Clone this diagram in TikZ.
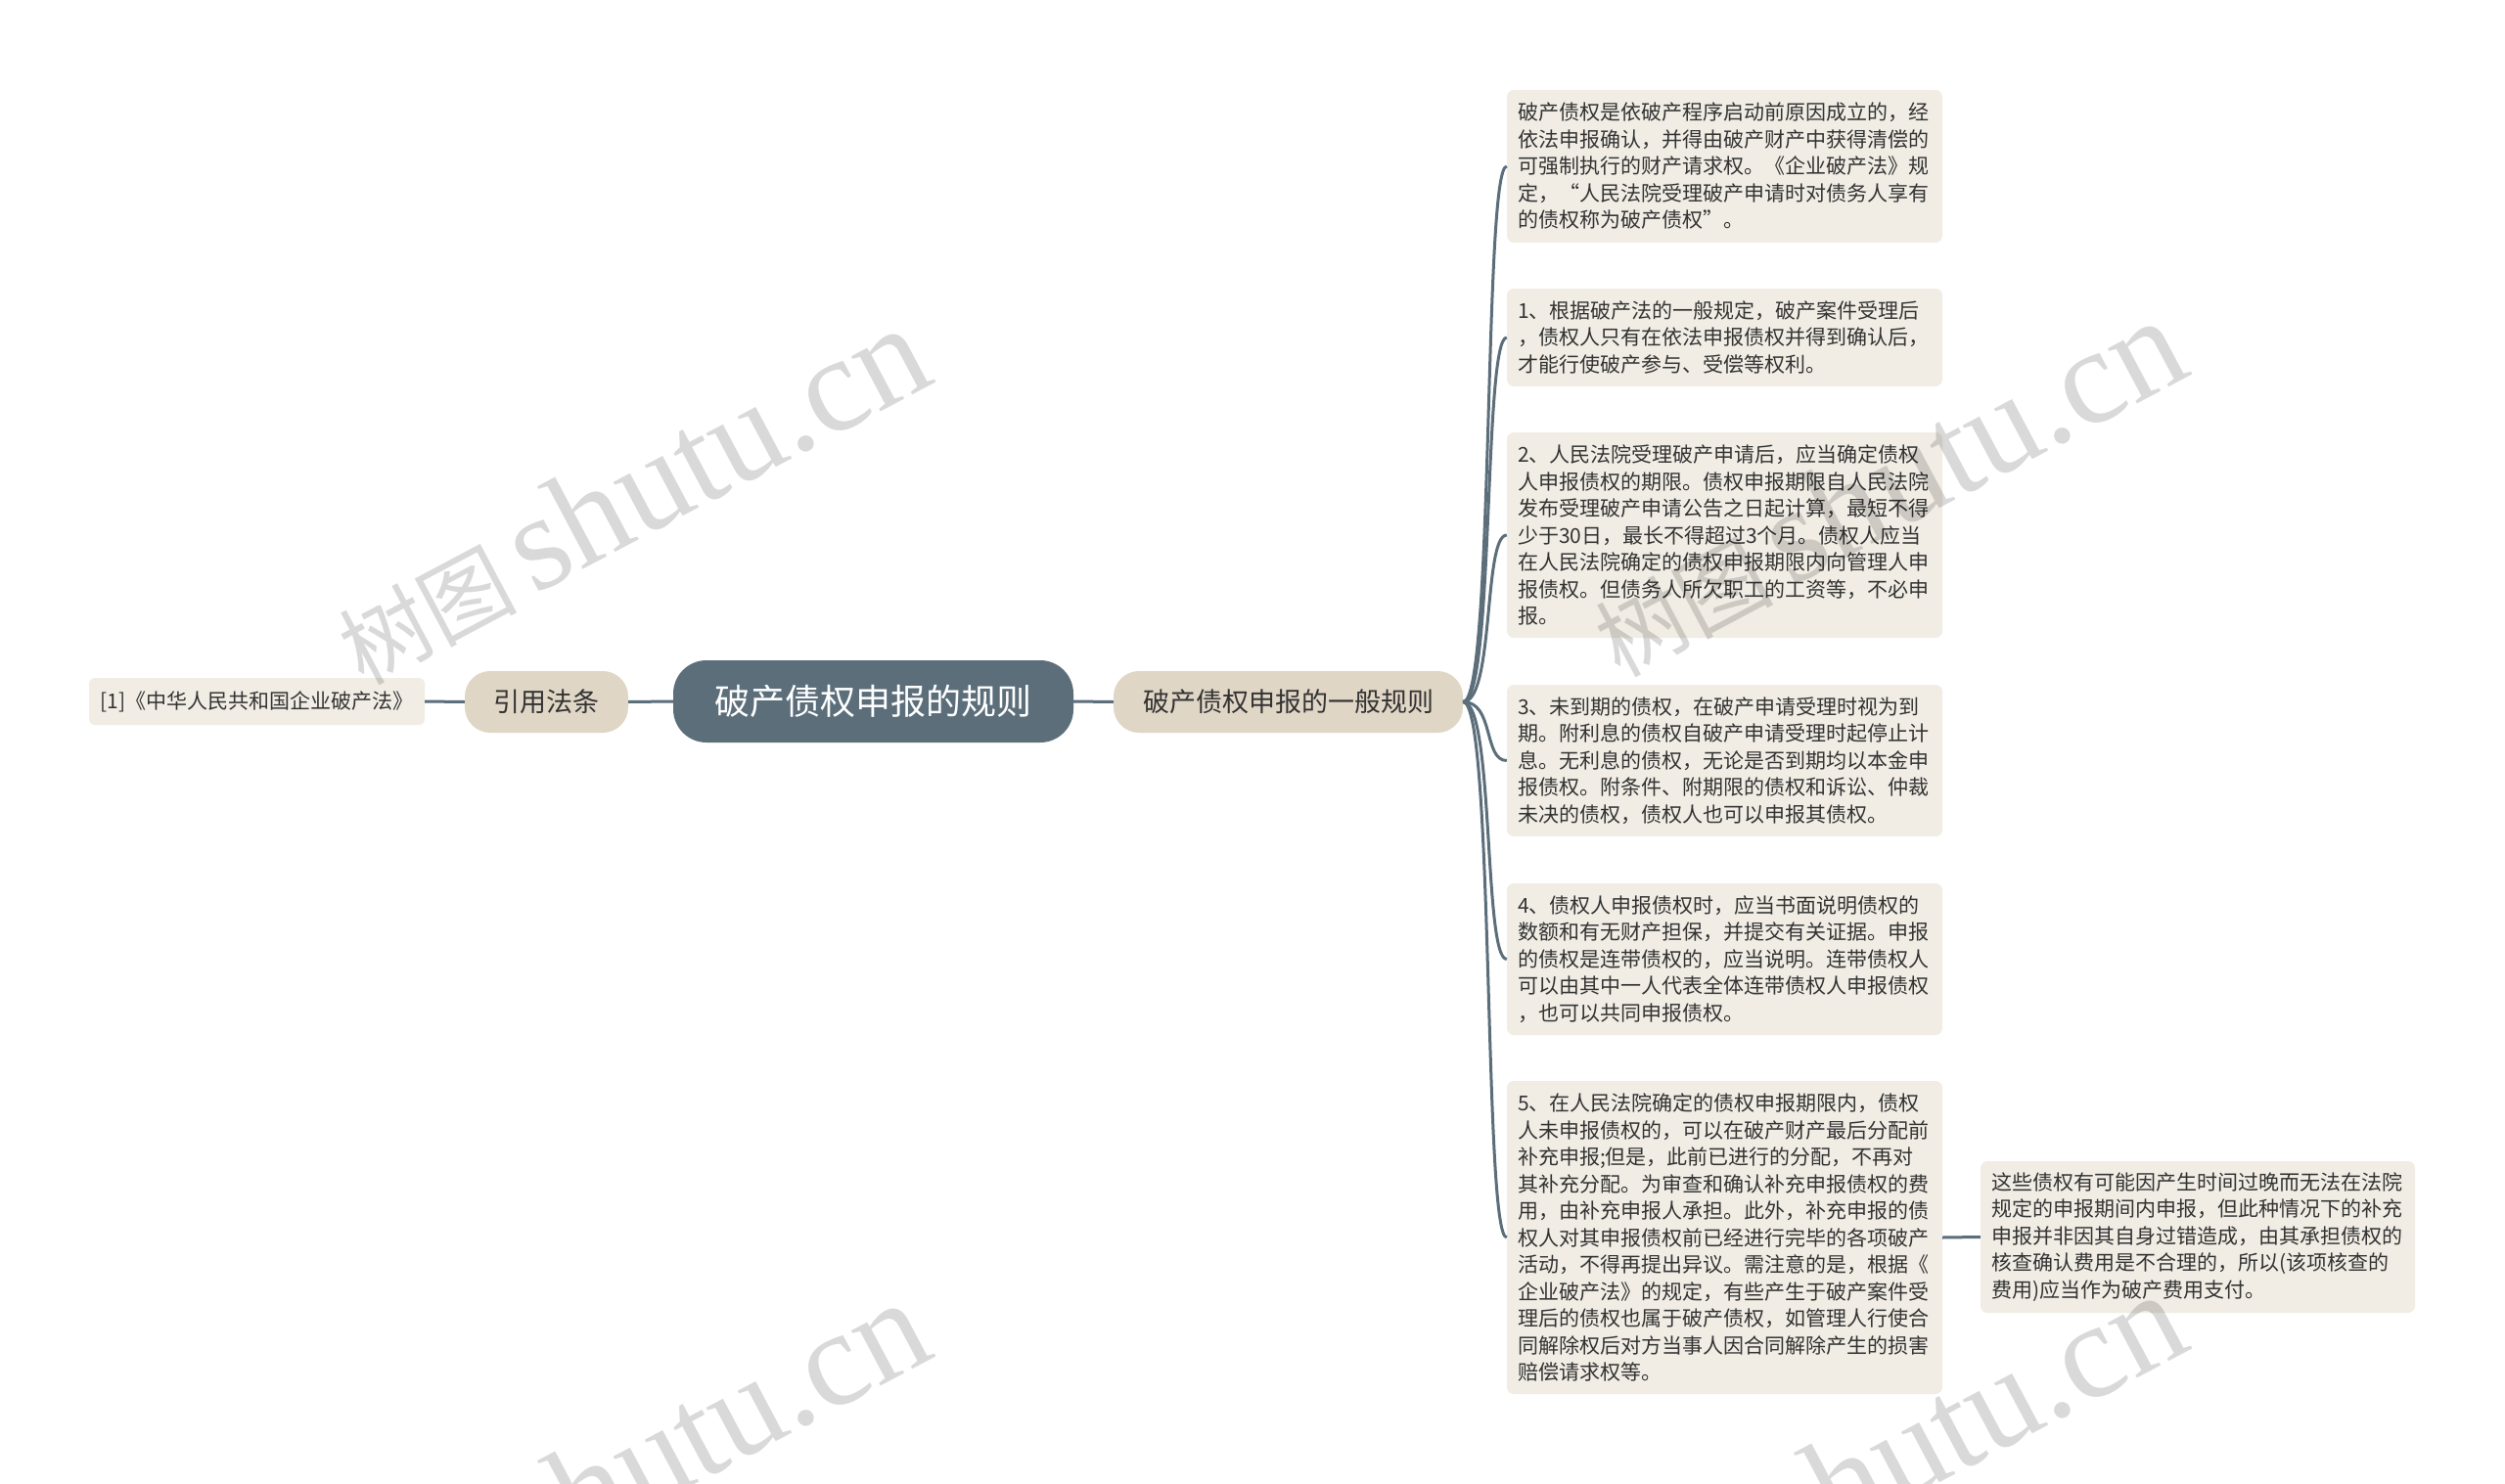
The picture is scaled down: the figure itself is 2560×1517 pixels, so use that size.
\documentclass[tikz,border=0pt]{standalone}
\usepackage{fontspec}
\setmainfont{Noto Sans CJK SC}
\newfontfamily\wmserif{Liberation Serif}
\newfontfamily\wmcjk{Noto Sans CJK SC}
\definecolor{slate}{HTML}{5B6E7A}
\definecolor{leafbg}{HTML}{F1EDE5}
\definecolor{midbg}{HTML}{E0D6C6}
\definecolor{txt}{HTML}{333333}
\begin{document}
\begin{tikzpicture}[x=1pt,y=-1pt,
  conn/.style={draw=slate, line width=3pt},
  leaf/.style={fill=leafbg, rounded corners=7pt, text width=423pt, inner xsep=11pt, inner ysep=0pt, align=left, font=\fontsize{21}{27.5}\selectfont, text=txt, anchor=center},
  mid/.style={fill=midbg, rounded corners=26pt, inner sep=0pt, minimum height=63pt, font=\fontsize{27}{30}\selectfont, text=txt},
  rootbox/.style={fill=slate, rounded corners=34pt, inner sep=0pt, minimum height=84pt, minimum width=409pt, font=\fontsize{36}{40}\selectfont, text=white},
  refbox/.style={fill=leafbg, rounded corners=6pt, inner sep=0pt, minimum height=48pt, minimum width=343pt, font=\fontsize{21}{25}\selectfont, text=txt},
  wm/.style={text=black, opacity=0.15, rotate=28, anchor=base west, inner sep=0pt}
]
\fill[white] (0,0) rectangle (2560,1517);
\useasboundingbox (0,0) rectangle (2560,1517);

\node[rootbox] (root) at (892.5,717) {破产债权申报的规则};
\node[mid, minimum width=167pt] (cite) at (558.5,717.5) {引用法条};
\node[refbox] (law) at (262.5,717) {[1]《中华人民共和国企业破产法》};
\node[mid, minimum width=357pt] (gen) at (1316.5,717.5) {破产债权申报的一般规则};

\node[leaf, minimum height=156pt] (l0) at (1762.5,170) {破产债权是依破产程序启动前原因成立的，经\\依法申报确认，并得由破产财产中获得清偿的\\可强制执行的财产请求权。《企业破产法》规\\定，“人民法院受理破产申请时对债务人享有\\的债权称为破产债权”。};
\node[leaf, minimum height=100pt] (l1) at (1762.5,345) {1、根据破产法的一般规定，破产案件受理后\\，债权人只有在依法申报债权并得到确认后，\\才能行使破产参与、受偿等权利。};
\node[leaf, minimum height=210pt] (l2) at (1762.5,547) {2、人民法院受理破产申请后，应当确定债权\\人申报债权的期限。债权申报期限自人民法院\\发布受理破产申请公告之日起计算，最短不得\\少于30日，最长不得超过3个月。债权人应当\\在人民法院确定的债权申报期限内向管理人申\\报债权。但债务人所欠职工的工资等，不必申\\报。};
\node[leaf, minimum height=155pt] (l3) at (1762.5,777.5) {3、未到期的债权，在破产申请受理时视为到\\期。附利息的债权自破产申请受理时起停止计\\息。无利息的债权，无论是否到期均以本金申\\报债权。附条件、附期限的债权和诉讼、仲裁\\未决的债权，债权人也可以申报其债权。};
\node[leaf, minimum height=155pt] (l4) at (1762.5,980.5) {4、债权人申报债权时，应当书面说明债权的\\数额和有无财产担保，并提交有关证据。申报\\的债权是连带债权的，应当说明。连带债权人\\可以由其中一人代表全体连带债权人申报债权\\，也可以共同申报债权。};
\node[leaf, minimum height=320pt] (l5) at (1762.5,1265) {5、在人民法院确定的债权申报期限内，债权\\人未申报债权的，可以在破产财产最后分配前\\补充申报;但是，此前已进行的分配，不再对\\其补充分配。为审查和确认补充申报债权的费\\用，由补充申报人承担。此外，补充申报的债\\权人对其申报债权前已经进行完毕的各项破产\\活动，不得再提出异议。需注意的是，根据《\\企业破产法》的规定，有些产生于破产案件受\\理后的债权也属于破产债权，如管理人行使合\\同解除权后对方当事人因合同解除产生的损害\\赔偿请求权等。};
\node[leaf, minimum height=155pt, text width=422pt] (far) at (2246,1264.5) {这些债权有可能因产生时间过晚而无法在法院\\规定的申报期间内申报，但此种情况下的补充\\申报并非因其自身过错造成，由其承担债权的\\核查确认费用是不合理的，所以(该项核查的\\费用)应当作为破产费用支付。};

\draw[conn] (law.east) -- (cite.west);
\draw[conn] (cite.east) -- (root.west);
\draw[conn] (root.east) -- (gen.west);
\foreach \n in {l0,l1,l2,l3,l4,l5}{
  \draw[conn] (gen.east) .. controls +(32,0) and +(-24,0) .. (\n.west);
}
\draw[conn] (l5.east) -- (far.west);

\foreach \p in {(371,702),(1655,694),(371,1698),(1655,1690)}{
  \node[wm] at \p {{\wmcjk\fontsize{91}{96}\selectfont 树图}\hspace{16pt}{\wmserif\fontsize{139}{144}\selectfont shutu.cn}};
}
\end{tikzpicture}
\end{document}
